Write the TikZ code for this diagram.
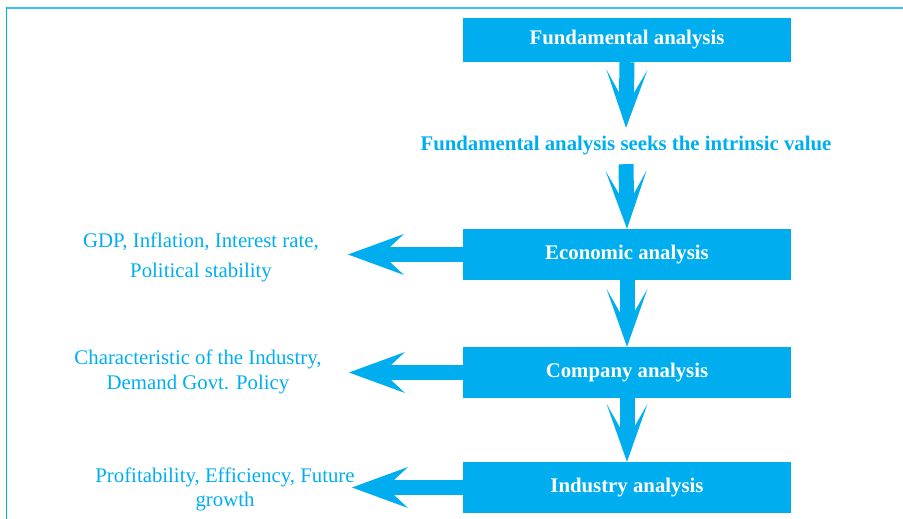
\documentclass[tikz,border=0pt]{standalone}
\usepackage{fontspec}
\setmainfont{Liberation Serif}
\usetikzlibrary{arrows.meta}
\definecolor{cyanbox}{HTML}{00AEEF}
\definecolor{cyanrule}{HTML}{3EC1F0}
\tikzstyle{box}=[fill=cyanbox, text=white, minimum width=328pt, inner sep=0pt, font=\fontsize{20.8}{24}\selectfont\bfseries]
\tikzstyle{note}=[text=cyanbox, align=center, inner sep=0pt]
\tikzstyle{down}=[draw=cyanbox, line width=15pt, -{Stealth[length=58pt 0 0, width=41pt 0 0, inset=36pt 0 0, line width=0pt 0]}]
\tikzstyle{side}=[draw=cyanbox, line width=15pt, -{Stealth[length=56pt 0 0, width=41pt 0 0, inset=22pt 0 0, line width=0pt 0]}]

\begin{document}
\begin{tikzpicture}[x=1pt, y=-1pt]
    \useasboundingbox (0,0) rectangle (903,519);
    % frame
    \draw[cyanrule, line width=2pt] (5.7,7.7) -- (903,7.7);
    \draw[cyanbox, line width=1.5pt] (6.3,7) -- (6.3,519);

    \foreach \pos/\h/\name/\txt in {
                            {(627,40)/44/fund/Fundamental analysis},
                            {(627,254.5)/51/econ/Economic analysis},
                            {(627,372.5)/51/comp/Company analysis},
                            {(627,487.5)/51/ind/Industry analysis}}
        \node[box, minimum height=\h pt] (\name) at \pos {\txt};

    \node[note, font=\fontsize{20.8}{24}\selectfont\bfseries, minimum height=36pt] (seek) at (626,146)
        {Fundamental analysis seeks the intrinsic value};

    \node[note, font=\fontsize{20.8}{30}\selectfont] (gdp) at (201,257)
        {GDP, Inflation, Interest rate,\\ Political stability};
    \node[note, font=\fontsize{20.8}{24.5}\selectfont] (chars) at (198,372)
        {Characteristic of the Industry,\\ Demand Govt. Policy};
    \node[note, font=\fontsize{20.8}{24}\selectfont] (prof) at (225,489)
        {Profitability, Efficiency, Future\\ growth};

    \coordinate (econtip) at (348,254.5);
    \coordinate (comptip) at (349,372.5);
    \coordinate (indtip) at (352,487.5);

    % down the chain
    \draw[down] (fund.south) -- (seek.north);
    \draw[down] (seek.south) -- (econ.north);
    \draw[down] (econ.south) -- (comp.north);
    \draw[down] (comp.south) -- (ind.north);

    % factors on the left
    \draw[side] (econ.west) -- (econtip);
    \draw[side] (comp.west) -- (comptip);
    \draw[side] (ind.west) -- (indtip);

\end{tikzpicture}
\end{document}
